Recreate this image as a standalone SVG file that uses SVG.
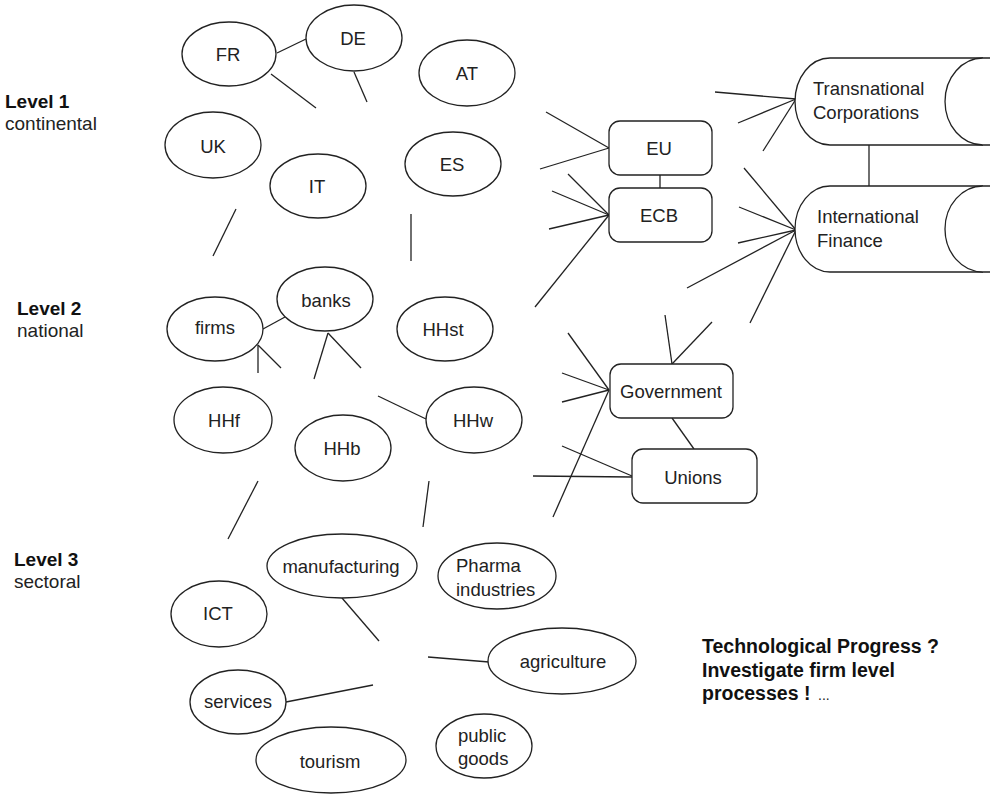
<svg xmlns="http://www.w3.org/2000/svg" width="990" height="794" viewBox="0 0 990 794">
<style>
.n{fill:#fff;stroke:#222;stroke-width:1.3}
.t{font-family:"Liberation Sans",Arial,sans-serif;font-size:18.5px;fill:#222;text-anchor:middle}
.tl{font-family:"Liberation Sans",Arial,sans-serif;font-size:18.5px;fill:#222}
.b{font-weight:bold;fill:#111}
.big{font-size:19.5px}
.lv{font-size:19px}
#connectors line{stroke:#222;stroke-width:1.3}
</style>
<rect width="990" height="794" fill="#fff"/>
<g id="labels">
<text class="tl b lv" x="5" y="108">Level 1</text>
<text class="tl lv" x="5" y="130">continental</text>
<text class="tl b lv" x="17" y="315">Level 2</text>
<text class="tl lv" x="17" y="337">national</text>
<text class="tl b lv" x="14" y="566">Level 3</text>
<text class="tl lv" x="14" y="588">sectoral</text>
<text class="tl b big" x="702" y="653">Technological Progress ?</text>
<text class="tl b big" x="702" y="677">Investigate firm level</text>
<text class="tl b big" x="702" y="700">processes !</text>
<text class="tl" x="818" y="700" style="font-size:14px">...</text>
</g>
<g id="connectors">
<line x1="277" y1="53" x2="306" y2="39"/>
<line x1="271" y1="74" x2="316" y2="108"/>
<line x1="354" y1="72" x2="367" y2="102"/>
<line x1="236" y1="209" x2="213" y2="256"/>
<line x1="411" y1="214" x2="411" y2="261"/>
<line x1="546" y1="112" x2="609" y2="148"/>
<line x1="540" y1="169" x2="609" y2="148"/>
<line x1="660" y1="175" x2="660" y2="188"/>
<line x1="568" y1="174" x2="609" y2="215"/>
<line x1="552" y1="191" x2="609" y2="215"/>
<line x1="549" y1="229" x2="609" y2="215"/>
<line x1="535" y1="307" x2="609" y2="215"/>
<line x1="715" y1="92" x2="796" y2="99"/>
<line x1="738" y1="123" x2="796" y2="99"/>
<line x1="763" y1="151" x2="796" y2="99"/>
<line x1="869" y1="145" x2="869" y2="186"/>
<line x1="744" y1="168" x2="796" y2="230"/>
<line x1="739" y1="207" x2="796" y2="230"/>
<line x1="738" y1="243" x2="796" y2="230"/>
<line x1="687" y1="288" x2="796" y2="230"/>
<line x1="750" y1="323" x2="796" y2="230"/>
<line x1="263" y1="329" x2="285" y2="317"/>
<line x1="258" y1="345" x2="258" y2="373"/>
<line x1="258" y1="345" x2="281" y2="368"/>
<line x1="328" y1="333" x2="314" y2="379"/>
<line x1="328" y1="333" x2="361" y2="368"/>
<line x1="378" y1="396" x2="426" y2="419"/>
<line x1="258" y1="481" x2="228" y2="539"/>
<line x1="429" y1="481" x2="423" y2="527"/>
<line x1="665" y1="315" x2="672" y2="364"/>
<line x1="712" y1="322" x2="672" y2="364"/>
<line x1="568" y1="333" x2="609" y2="390"/>
<line x1="562" y1="373" x2="609" y2="390"/>
<line x1="562" y1="402" x2="609" y2="390"/>
<line x1="553" y1="517" x2="609" y2="390"/>
<line x1="672" y1="418" x2="694" y2="449"/>
<line x1="562" y1="446" x2="632" y2="476"/>
<line x1="533" y1="476" x2="632" y2="477"/>
<line x1="342" y1="598" x2="379" y2="641"/>
<line x1="428" y1="657" x2="489" y2="662"/>
<line x1="286" y1="702" x2="373" y2="685"/>
</g>
<g id="FR"><ellipse class="n" cx="229" cy="54" rx="47" ry="32"/><text class="t" x="228" y="61">FR</text></g>
<g id="DE"><ellipse class="n" cx="354" cy="38" rx="48" ry="33"/><text class="t" x="353" y="45">DE</text></g>
<g id="AT"><ellipse class="n" cx="467" cy="73" rx="48" ry="33"/><text class="t" x="467" y="80">AT</text></g>
<g id="UK"><ellipse class="n" cx="213" cy="145" rx="48" ry="33"/><text class="t" x="213" y="153">UK</text></g>
<g id="IT"><ellipse class="n" cx="318" cy="186" rx="48" ry="32"/><text class="t" x="317" y="193">IT</text></g>
<g id="ES"><ellipse class="n" cx="453" cy="164" rx="48" ry="32"/><text class="t" x="452" y="171">ES</text></g>
<g id="EU"><rect class="n" x="609" y="121" width="103" height="54" rx="11"/><text class="t" x="659" y="155">EU</text></g>
<g id="ECB"><rect class="n" x="609" y="188" width="103" height="54" rx="11"/><text class="t" x="659" y="222">ECB</text></g>
<g id="TC">
<path class="n" d="M990 58 H830 A35 43.5 0 0 0 830 145 H990"/>
<path class="n" fill="none" d="M983 58 A38 43.5 0 0 0 983 145"/>
<text class="tl" x="813" y="95">Transnational</text>
<text class="tl" x="813" y="119">Corporations</text>
</g>
<g id="IF">
<path class="n" d="M990 186 H830 A35 43 0 0 0 830 272 H990"/>
<path class="n" fill="none" d="M983 186 A38 43 0 0 0 983 272"/>
<text class="tl" x="817" y="223">International</text>
<text class="tl" x="817" y="247">Finance</text>
</g>
<g id="firms"><ellipse class="n" cx="215" cy="329" rx="48" ry="32"/><text class="t" x="215" y="334">firms</text></g>
<g id="banks"><ellipse class="n" cx="325" cy="299" rx="48" ry="32"/><text class="t" x="326" y="307">banks</text></g>
<g id="HHst"><ellipse class="n" cx="445" cy="329" rx="48" ry="32"/><text class="t" x="443" y="336">HHst</text></g>
<g id="HHf"><ellipse class="n" cx="223" cy="420" rx="49" ry="33"/><text class="t" x="224" y="427">HHf</text></g>
<g id="HHb"><ellipse class="n" cx="343" cy="448" rx="48" ry="33"/><text class="t" x="342" y="455">HHb</text></g>
<g id="HHw"><ellipse class="n" cx="474" cy="420" rx="48" ry="33"/><text class="t" x="473" y="427">HHw</text></g>
<g id="Government"><rect class="n" x="610" y="364" width="123" height="54" rx="11"/><text class="t" x="671" y="398">Government</text></g>
<g id="Unions"><rect class="n" x="632" y="449" width="125" height="54" rx="11"/><text class="t" x="693" y="484">Unions</text></g>
<g id="manufacturing"><ellipse class="n" cx="342" cy="566" rx="75" ry="32"/><text class="t" x="341" y="573">manufacturing</text></g>
<g id="Pharma"><ellipse class="n" cx="497" cy="576" rx="59" ry="33"/><text class="tl" x="456" y="572">Pharma</text><text class="tl" x="456" y="596">industries</text></g>
<g id="ICT"><ellipse class="n" cx="219" cy="614" rx="48" ry="33"/><text class="t" x="218" y="620">ICT</text></g>
<g id="agriculture"><ellipse class="n" cx="562" cy="661" rx="74" ry="33"/><text class="t" x="563" y="668">agriculture</text></g>
<g id="services"><ellipse class="n" cx="238" cy="702" rx="48" ry="32"/><text class="t" x="238" y="708">services</text></g>
<g id="tourism"><ellipse class="n" cx="331" cy="760" rx="75" ry="33"/><text class="t" x="330" y="768">tourism</text></g>
<g id="public_goods"><ellipse class="n" cx="484" cy="746" rx="48" ry="32"/><text class="tl" x="458" y="742">public</text><text class="tl" x="458" y="765">goods</text></g>
</svg>
